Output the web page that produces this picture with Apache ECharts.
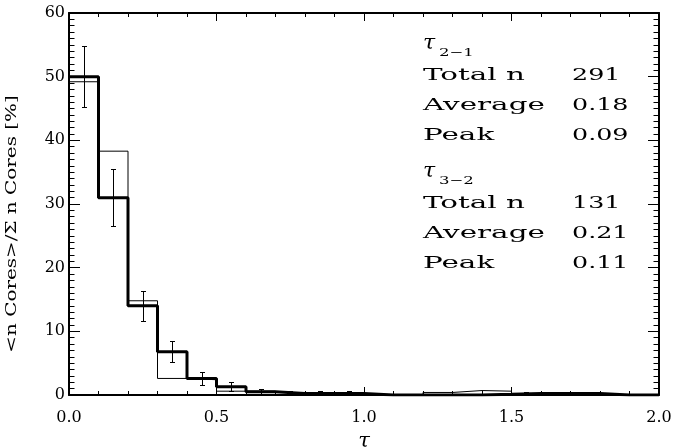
<!DOCTYPE html>
<html><head><meta charset="utf-8">
<script src="https://cdn.jsdelivr.net/npm/echarts@6/dist/echarts.min.js"></script>
<style>html,body{margin:0;padding:0;background:#fff}#c{width:675px;height:447px}</style>
</head><body><div id="c"></div>
<script>
// ---- data ----
const tauBinEdges = [0.0,0.1,0.2,0.3,0.4,0.5,0.6,0.7,0.8,0.9,1.0,1.1,1.2,1.3,1.4,1.5,1.6,1.7,1.8,1.9,2.0];
const tau21Percent = [50.0,31.0,14.0,6.8,2.6,1.3,0.5,0.25,0.25,0.25,0,0,0,0,0.1,0.25,0.25,0.25,0,0];
const tau21Error   = [4.8,4.5,2.35,1.65,1.0,0.7,0.45,0.3,0.3,0.3,0,0,0,0,0,0.25,0.25,0.25,0,0];
const tau32Percent = [49.2,38.3,14.8,2.6,2.4,0.6,0.6,0,0,0,0,0,0.4,0.7,0.6,0,0,0,0,0];
const xTickValues = [0,0.5,1,1.5,2];
const xTickLabels = ['0.0','0.5','1.0','1.5','2.0'];
const yTickValues = [0,10,20,30,40,50,60];
const yTickLabels = ['0','10','20','30','40','50','60'];
const statLabels = ['Total n','Average','Peak'];
const tau21Stats = ['291','0.18','0.09'];
const tau32Stats = ['131','0.21','0.11'];
const tau21Title = ['τ','2−1'];
const tau32Title = ['τ','3−2'];
const xAxisTitle = 'τ';
const yAxisTitle = '<n Cores>/Σ n Cores [%]';

// ---- chart ----
const FONT = 'DejaVu Serif';
const chart = echarts.init(document.getElementById('c'), null, {renderer:'canvas'});

function stepData(values){
  return tauBinEdges.map((e,i)=>[e, values[Math.min(i, values.length-1)]]);
}
const errBars = [];
tau21Percent.forEach((v,i)=>{
  if (tau21Error[i] > 0) errBars.push([(tauBinEdges[i]+tauBinEdges[i+1])/2, v-tau21Error[i], v+tau21Error[i]]);
});

function lbl(values, labels){ return v => { const k = values.findIndex(t=>Math.abs(t-v)<1e-9); return k>=0 ? labels[k] : ''; }; }

const baseX = {
  type:'value', min:0, max:2, interval:0.5,
  axisLine:{show:true, onZero:false, lineStyle:{color:'#000', width:2}},
  axisTick:{show:true, inside:true, length:8, lineStyle:{color:'#000', width:1}},
  minorTick:{show:true, splitNumber:5, length:4, lineStyle:{color:'#000', width:1}},
  splitLine:{show:false}, minorSplitLine:{show:false}
};
const baseY = {
  type:'value', min:0, max:60, interval:10,
  axisLine:{show:true, onZero:false, lineStyle:{color:'#000', width:2}},
  axisTick:{show:true, inside:true, length:11, lineStyle:{color:'#000', width:1}},
  minorTick:{show:true, splitNumber:10, length:5.5, lineStyle:{color:'#000', width:1}},
  splitLine:{show:false}, minorSplitLine:{show:false}
};

const graphics = [];
function txt(text, x, y, size, sx, italic){
  graphics.push({type:'text', x:x, y:y, scaleX:sx, silent:true,
    style:{text:text, fontFamily:FONT, fontStyle:italic?'italic':'normal', fontSize:size, fill:'#000', align:'left', verticalAlign:'middle'}});
}
function block(title, stats, y0){
  txt(title[0], 423, y0, 20, 1.1, true);
  txt(title[1], 439, y0+9, 11, 1.5);
  statLabels.forEach((s,k)=>{
    txt(s, 423, y0+31+30*k, 17.5, 1.68);
    txt(stats[k], 572, y0+31+30*k, 17.5, 1.45);
  });
}
block(tau21Title, tau21Stats, 44);
block(tau32Title, tau32Stats, 172);
graphics.push({type:'text', x:12, y:224, rotation:Math.PI/2, scaleX:1.33, silent:true,
  style:{text:yAxisTitle, fontFamily:FONT, fontSize:15, fill:'#000', align:'center', verticalAlign:'middle'}});

chart.setOption({
  animation:false,
  backgroundColor:'#fff',
  grid:{left:69, right:16, top:13, bottom:52, containLabel:false, outerBoundsMode:'none'},
  xAxis:[
    Object.assign({}, baseX, {position:'bottom',
      name:xAxisTitle, nameLocation:'middle', nameGap:32,
      nameTextStyle:{fontFamily:FONT, fontStyle:'italic', fontSize:21, color:'#000'},
      axisLabel:{show:true, color:'#000', fontFamily:FONT, fontSize:16, margin:15, formatter:lbl(xTickValues,xTickLabels)}}),
    Object.assign({}, baseX, {position:'top', axisLabel:{show:false}})
  ],
  yAxis:[
    Object.assign({}, baseY, {position:'left',
      axisLabel:{show:true, color:'#000', fontFamily:FONT, fontSize:16, margin:4, formatter:lbl(yTickValues,yTickLabels)}}),
    Object.assign({}, baseY, {position:'right', axisLabel:{show:false}})
  ],
  graphic:graphics,
  series:[
    {
      type:'line', name:'tau32', xAxisIndex:0, yAxisIndex:0, step:'end', z:2,
      data:stepData(tau32Percent), showSymbol:false, symbol:'none', clip:true,
      lineStyle:{color:'#000', width:1}
    },
    {
      type:'line', name:'tau21', xAxisIndex:0, yAxisIndex:0, step:'end', z:3,
      data:stepData(tau21Percent), showSymbol:false, symbol:'none', clip:true,
      lineStyle:{color:'#000', width:3}
    },
    {
      type:'custom', name:'tau21err', xAxisIndex:0, yAxisIndex:0, clip:true, z:4,
      data:errBars, encode:{x:0, y:[1,2]},
      renderItem:function(params, api){
        const x = api.value(0);
        const pt = api.coord([x, api.value(2)]);
        const pb = api.coord([x, Math.max(api.value(1),0)]);
        const cx = Math.round(pt[0])+0.5, cap = 2.5;
        const yt = Math.round(pt[1])+0.5, yb = Math.round(pb[1])+0.5;
        const st = {stroke:'#000', lineWidth:1};
        return {type:'group', children:[
          {type:'line', shape:{x1:cx, y1:yt, x2:cx, y2:yb}, style:st},
          {type:'line', shape:{x1:cx-cap, y1:yt, x2:cx+cap, y2:yt}, style:st},
          {type:'line', shape:{x1:cx-cap, y1:yb, x2:cx+cap, y2:yb}, style:st}
        ]};
      }
    }
  ]
});
</script>
</body></html>
